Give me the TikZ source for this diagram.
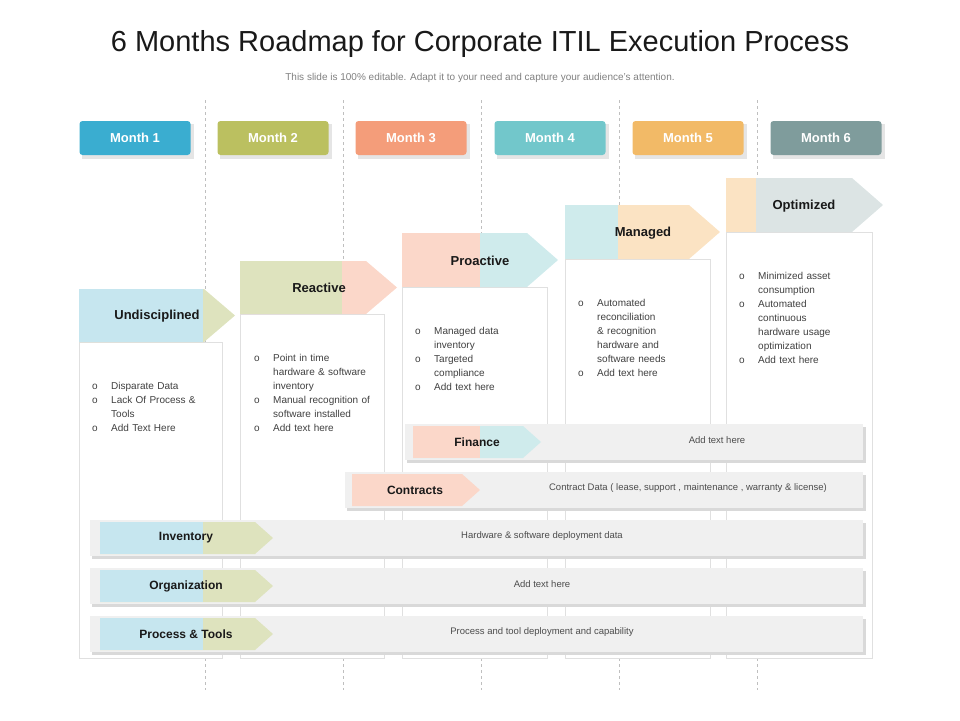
\documentclass[tikz,border=0pt]{standalone}
\usepackage{fontspec}
\setmainfont{Liberation Sans}
\usepackage{tikz}
\definecolor{mblue}{HTML}{3AADD0}
\definecolor{molive}{HTML}{BBC060}
\definecolor{msalmon}{HTML}{F49D7A}
\definecolor{mteal}{HTML}{72C7CB}
\definecolor{morange}{HTML}{F2BA67}
\definecolor{mgray}{HTML}{7F9C9C}
\definecolor{lblue}{HTML}{C6E6EF}
\definecolor{lolive}{HTML}{DEE3BE}
\definecolor{lpink}{HTML}{FBD7C9}
\definecolor{lteal}{HTML}{CFEBEC}
\definecolor{lorange}{HTML}{FBE3C3}
\definecolor{lgray}{HTML}{DCE4E4}
\definecolor{barfill}{HTML}{F0F0F0}
\newcommand\bitem[1]{\par\hyphenpenalty=10000\exhyphenpenalty=10000\hangindent=20pt\hangafter=1\noindent\makebox[20pt][l]{\hspace{1pt}o}#1}
% arrow shape: x, y, width, height, tip, split, left colour, right colour
\newcommand\tagshape[8]{%
  \fill[#8] (#1,#2) -- (#1+#3-#5,#2) -- (#1+#3,#2+#4/2) -- (#1+#3-#5,#2+#4) -- (#1,#2+#4) -- cycle;
  \fill[#7] (#1,#2) rectangle (#6,#2+#4);}
\begin{document}
\begin{tikzpicture}[x=1pt, y=-1pt,
    month/.style={rectangle, rounded corners=3pt, minimum width=111pt, minimum height=34pt, text=white, font=\fontsize{13}{15}\selectfont\bfseries},
    stagelbl/.style={font=\fontsize{13}{15}\selectfont\bfseries, text=black!90},
    bodybox/.style={draw=black!12, fill=white, line width=0.6pt},
    bodytxt/.style={text width=110pt, align=left, inner sep=0pt, anchor=north west, text=black!75, font=\fontsize{10}{14}\selectfont},
    bar/.style={fill=barfill, draw=none},
    bartxt/.style={font=\fontsize{9.5}{11}\selectfont, text=black!70},
    sep/.style={draw=black!25, dashed, line width=0.5pt}]
  \useasboundingbox (0,0) rectangle (960,720);
  % Title
  \node[font=\fontsize{29}{32}\selectfont, text=black!90] (title) at (480,44) {6 Months Roadmap for Corporate ITIL Execution Process};
  \node[font=\fontsize{10}{12}\selectfont, text=black!50] (subtitle) at (480,78) {This slide is 100\% editable. Adapt it to your need and capture your audience’s attention.};
  % Separators
  \foreach \x in {205,343,481,619,757}
    \draw[sep] (\x,100) -- (\x,690);
  % Month tabs
  \foreach \x/\c/\m in {135/mblue/1, 273/molive/2, 411/msalmon/3, 550/mteal/4, 688/morange/5, 826/mgray/6}{
    \fill[black!10] (\x-53,124) rectangle (\x+59,159);
    \node[month, fill=\c] (month\m) at (\x,138) {Month \m};}
  % Stage bodies
  \draw[bodybox] (79,342) rectangle (222,658);
  \draw[bodybox] (240,314) rectangle (384,658);
  \draw[bodybox] (402,287) rectangle (547,658);
  \draw[bodybox] (565,259) rectangle (710,658);
  \draw[bodybox] (726,232) rectangle (872,658);
  % Stage arrows
  \tagshape{79}{289}{156}{53}{31}{203}{lblue}{lolive}
  \node[stagelbl] (undisc) at (157,316) {Undisciplined};
  \tagshape{240}{261}{157}{53}{31}{342}{lolive}{lpink}
  \node[stagelbl] (reactive) at (319,288) {Reactive};
  \tagshape{402}{233}{156}{54}{31}{480}{lpink}{lteal}
  \node[stagelbl] (proactive) at (480,261) {Proactive};
  \tagshape{565}{205}{155}{54}{31}{618}{lteal}{lorange}
  \node[stagelbl] (managed) at (643,233) {Managed};
  \tagshape{726}{178}{157}{54}{31}{756}{lorange}{lgray}
  \node[stagelbl] (optimized) at (804,206) {Optimized};
  % Stage texts
  \node[bodytxt, text width=108pt] (t1) at (91,375) {\bitem{Disparate Data}\bitem{Lack Of Process \& Tools}\bitem{Add Text Here}};
  \node[bodytxt, text width=118pt] (t2) at (253,347) {\bitem{Point in time hardware \& software inventory}\bitem{Manual recognition of software installed}\bitem{Add text here}};
  \node[bodytxt, text width=108pt] (t3) at (414,320) {\bitem{Managed data inventory}\bitem{Targeted compliance}\bitem{Add text here}};
  \node[bodytxt, text width=110pt] (t4) at (577,292) {\bitem{Automated reconciliation \& recognition hardware and software needs}\bitem{Add text here}};
  \node[bodytxt, text width=112pt] (t5) at (738,265) {\bitem{Minimized asset consumption}\bitem{Automated continuous hardware usage optimization}\bitem{Add text here}};
  % Bars
  \foreach \bx/\by in {405/424, 345/472, 90/520, 90/568, 90/616}{
    \fill[black!15] (\bx+2,\by+3) rectangle (866,\by+39);
    \fill[barfill] (\bx,\by) rectangle (863,\by+36);}
  \tagshape{413}{426}{128}{32}{18}{480}{lpink}{lteal}
  \node[stagelbl, font=\fontsize{12}{14}\selectfont\bfseries] (finance) at (477,442) {Finance};
  \node[bartxt] (financetxt) at (717,440) {Add text here};
  \tagshape{352}{474}{128}{32}{18}{462}{lpink}{lpink}
  \node[stagelbl, font=\fontsize{12}{14}\selectfont\bfseries] (contracts) at (415,490) {Contracts};
  \node[bartxt] (contractstxt) at (688,488) {Contract Data ( lease, support , maintenance , warranty \& license)};
  \foreach \ty/\nm/\lb/\tx in {522/inventory/Inventory/Hardware \& software deployment data, 570/organization/Organization/Add text here, 618/process/Process \& Tools/Process and tool deployment and capability}{
    \tagshape{100}{\ty}{173}{32}{18}{203}{lblue}{lolive}
    \node[stagelbl, font=\fontsize{12}{14}\selectfont\bfseries] (\nm) at (186,\ty+16) {\lb};
    \node[bartxt] (\nm txt) at (542,\ty+14) {\tx};}
\end{tikzpicture}
\end{document}
